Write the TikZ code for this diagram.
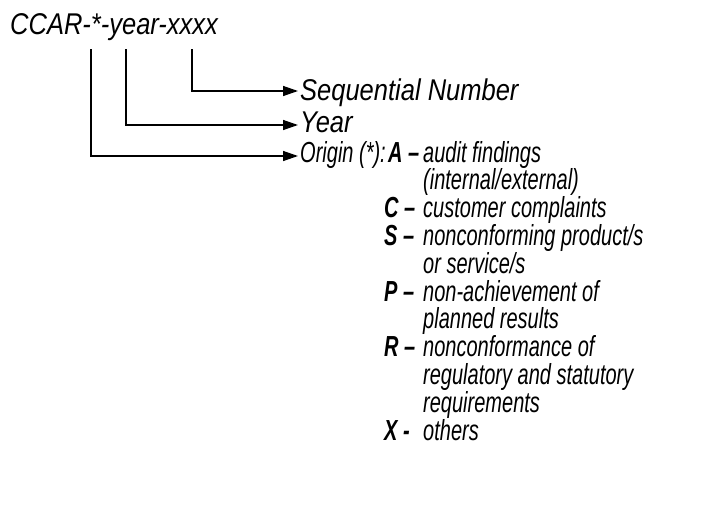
\documentclass[tikz,border=0pt]{standalone}
\usepackage{fontspec}
\setmainfont{Liberation Sans}
\newfontfamily\topfont[FakeStretch=0.85]{Liberation Sans}
\newfontfamily\narrowfont[FakeStretch=0.69]{Liberation Sans}
\usetikzlibrary{arrows.meta}
\newcommand{\code}[1]{\par\makebox[39pt][l]{\bfseries #1}}
\newcommand{\cont}{\par\hspace*{39pt}}

\begin{document}
\begin{tikzpicture}
  [x=1pt,y=-1pt,every node/.style={inner sep=0pt,anchor=base west,font=\topfont\itshape\fontsize{30}{32}\selectfont}]
  \tikzstyle{conn} = [draw,line width=1.4pt,-{Triangle[length=15pt,width=10pt]},shorten >=2pt]
  \tikzstyle{list} = [font=\narrowfont\itshape\fontsize{29}{27.8}\selectfont]
  \useasboundingbox (0,0) rectangle (724,509);
  \node (code) at (10,34) {CCAR-*-year-xxxx};
  \coordinate (origtop) at (91,49);
  \coordinate (yeartop) at (126,49);
  \coordinate (numtop) at (192,49);
  \node (seq) at (300,100) {Sequential Number};
  \node (year) at (300,132) {Year};
  \node[list] (origin) at (300,162) {Origin (*):};
  \node[list] (codes) at (384,162) {\vtop{\hsize=320pt\parindent=0pt\parskip=0pt
    \code{\hspace{4pt}A –}audit findings
    \cont(internal/external)
    \code{C –}customer complaints
    \code{S –}nonconforming product/s
    \cont or service/s
    \code{P –}non-achievement of
    \cont planned results
    \code{R –}nonconformance of
    \cont regulatory and statutory
    \cont requirements
    \code{X -}others\par}};
\foreach \source /\dest /\up in {numtop/seq/9,yeartop/year/7,origtop/origin/6}
   \draw[conn] (\source) |- ([yshift=\up pt]\dest.base west);

\end{tikzpicture}
\end{document}
